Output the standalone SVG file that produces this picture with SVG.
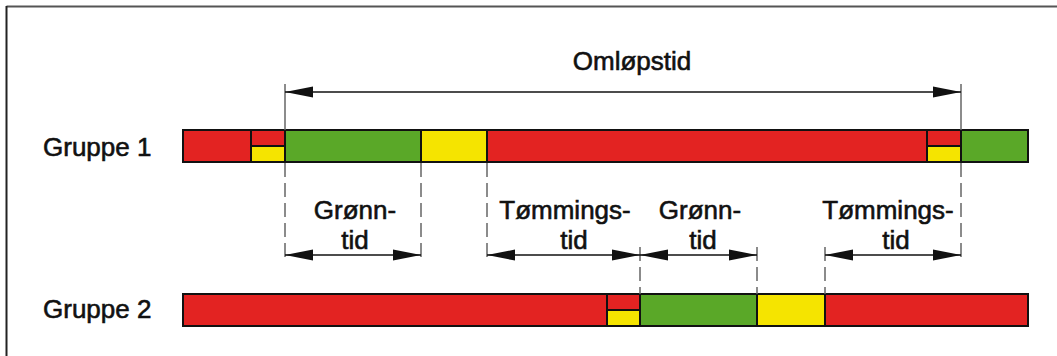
<svg xmlns="http://www.w3.org/2000/svg" width="1057" height="356" viewBox="0 0 1057 356">
<style>
  .t { font-family: "Liberation Sans", Arial, sans-serif; font-size: 26px; fill: #111; stroke: #111; stroke-width: 0.6; }
  .r { fill: #e32322; }
  .g { fill: #5aa828; }
  .y { fill: #f5e400; }
  .seg { stroke: #111; stroke-width: 2; }
  .dim { stroke: #111; stroke-width: 1.6; fill: none; }
  .ext { stroke: #666; stroke-width: 1.5; fill: none; }
  .dash { stroke: #666; stroke-width: 1.5; fill: none; stroke-dasharray: 14 6; }
</style>
<defs>
  <marker id="ah" viewBox="0 0 28 12" refX="28" refY="6" markerWidth="28" markerHeight="12" markerUnits="userSpaceOnUse" orient="auto-start-reverse">
    <path d="M0,0.5 L28,6 L0,11.5 z" fill="#111"/>
  </marker>
</defs>
<rect width="1057" height="356" fill="#fff"/>
<g id="frame">
  <line x1="6.5" y1="6.5" x2="1057" y2="6.5" stroke="#555" stroke-width="2"/>
  <line x1="6.5" y1="6" x2="6.5" y2="356" stroke="#222" stroke-width="2"/>
</g>
<g id="gruppe1">
  <text class="t" x="43" y="156">Gruppe 1</text>
  <g class="seg">
    <rect class="r" x="183" y="130" width="68" height="32"/>
    <rect class="r" x="251" y="130" width="34" height="16"/>
    <rect class="y" x="251" y="146" width="34" height="16"/>
    <rect class="g" x="285" y="130" width="136" height="32"/>
    <rect class="y" x="421" y="130" width="66" height="32"/>
    <rect class="r" x="487" y="130" width="440" height="32"/>
    <rect class="r" x="927" y="130" width="34" height="16"/>
    <rect class="y" x="927" y="146" width="34" height="16"/>
    <rect class="g" x="961" y="130" width="67" height="32"/>
  </g>
</g>
<g id="gruppe2">
  <text class="t" x="43" y="318">Gruppe 2</text>
  <g class="seg">
    <rect class="r" x="183" y="294" width="424" height="32"/>
    <rect class="r" x="607" y="294" width="33" height="16"/>
    <rect class="y" x="607" y="310" width="33" height="16"/>
    <rect class="g" x="640" y="294" width="117" height="32"/>
    <rect class="y" x="757" y="294" width="68" height="32"/>
    <rect class="r" x="825" y="294" width="203" height="32"/>
  </g>
</g>
<g id="labels">
  <text class="t" x="632" y="70" text-anchor="middle">Omløpstid</text>
  <text class="t" text-anchor="middle"><tspan x="355" y="219">Grønn-</tspan><tspan x="355" y="249">tid</tspan></text>
  <text class="t" text-anchor="middle"><tspan x="565" y="219">Tømmings-</tspan><tspan x="574" y="249">tid</tspan></text>
  <text class="t" text-anchor="middle"><tspan x="700" y="219">Grønn-</tspan><tspan x="703" y="249">tid</tspan></text>
  <text class="t" text-anchor="middle"><tspan x="888" y="219">Tømmings-</tspan><tspan x="896" y="249">tid</tspan></text>
</g>
<g id="connectors">
  <line class="ext" x1="285" y1="84" x2="285" y2="130"/>
  <line class="ext" x1="961" y1="84" x2="961" y2="130"/>
  <line class="dim" x1="285" y1="92" x2="961" y2="92" marker-start="url(#ah)" marker-end="url(#ah)"/>
  <line class="dash" x1="285" y1="163" x2="285" y2="263"/>
  <line class="dash" x1="421" y1="163" x2="421" y2="263"/>
  <line class="dash" x1="487" y1="163" x2="487" y2="263"/>
  <line class="dash" x1="961" y1="163" x2="961" y2="263"/>
  <line class="dash" x1="640" y1="247" x2="640" y2="294"/>
  <line class="dash" x1="757" y1="247" x2="757" y2="294"/>
  <line class="dash" x1="825" y1="247" x2="825" y2="294"/>
  <line class="dim" x1="285" y1="255" x2="421" y2="255" marker-start="url(#ah)" marker-end="url(#ah)"/>
  <line class="dim" x1="487" y1="255" x2="640" y2="255" marker-start="url(#ah)" marker-end="url(#ah)"/>
  <line class="dim" x1="640" y1="255" x2="757" y2="255" marker-start="url(#ah)" marker-end="url(#ah)"/>
  <line class="dim" x1="825" y1="255" x2="961" y2="255" marker-start="url(#ah)" marker-end="url(#ah)"/>
</g>
</svg>
